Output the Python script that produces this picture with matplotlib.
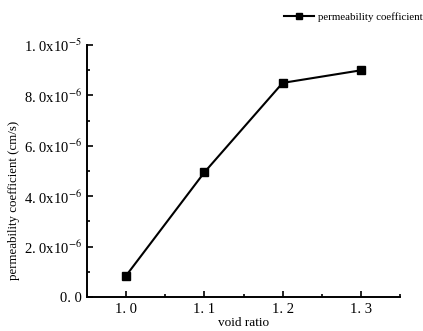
import matplotlib
matplotlib.use("Agg")
import matplotlib.pyplot as plt
from matplotlib.ticker import MultipleLocator

void_ratio = [1.0, 1.1, 1.2, 1.3]
permeability = [0.85e-6, 4.95e-6, 8.5e-6, 9.0e-6]
x_ticks = [1.0, 1.1, 1.2, 1.3]
x_labels = ["1. 0", "1. 1", "1. 2", "1. 3"]
y_ticks = [0, 2e-6, 4e-6, 6e-6, 8e-6, 1e-5]
y_labels = ["0. 0", r"2. 0x10$^{-6}$", r"4. 0x10$^{-6}$", r"6. 0x10$^{-6}$",
            r"8. 0x10$^{-6}$", r"1. 0x10$^{-5}$"]

plt.rcParams['font.family'] = ['Liberation Serif', 'DejaVu Serif']
plt.rcParams['mathtext.fontset'] = 'stix'

fig = plt.figure(figsize=(4.23, 3.31), dpi=100)
ax = fig.add_axes([0.2057, 0.1027, 0.74, 0.761])
ax.plot(void_ratio, permeability, color='black', marker='s', markersize=6,
        linewidth=1.5, label='permeability coefficient')
ax.set_xlim(0.95, 1.35)
ax.set_ylim(0, 1e-5)
ax.set_xticks(x_ticks)
ax.set_xticklabels(x_labels, fontsize=10.5)
ax.set_yticks(y_ticks)
ax.set_yticklabels(y_labels, fontsize=10.5)
ax.xaxis.set_minor_locator(MultipleLocator(0.05))
ax.yaxis.set_minor_locator(MultipleLocator(1e-6))
ax.tick_params(which='both', direction='in', width=1.2)
ax.tick_params(which='major', length=4, pad=4)
ax.tick_params(which='minor', length=2)
for s in ['top', 'right']:
    ax.spines[s].set_visible(False)
for s in ['left', 'bottom']:
    ax.spines[s].set_linewidth(1.4)
ax.set_xlabel('void ratio', fontsize=9.5, labelpad=1)
ax.set_ylabel('permeability coefficient (cm/s)', fontsize=9.3)
ax.yaxis.set_label_coords(-0.215, 0.385)
leg = fig.legend(loc='center right', bbox_to_anchor=(1.0, 0.948), frameon=False,
                 fontsize=7.8, handlelength=2.8, handletextpad=0.4, markerscale=0.8,
                 borderpad=0.0, borderaxespad=0.0)
fig.savefig('out.png', dpi=100)
